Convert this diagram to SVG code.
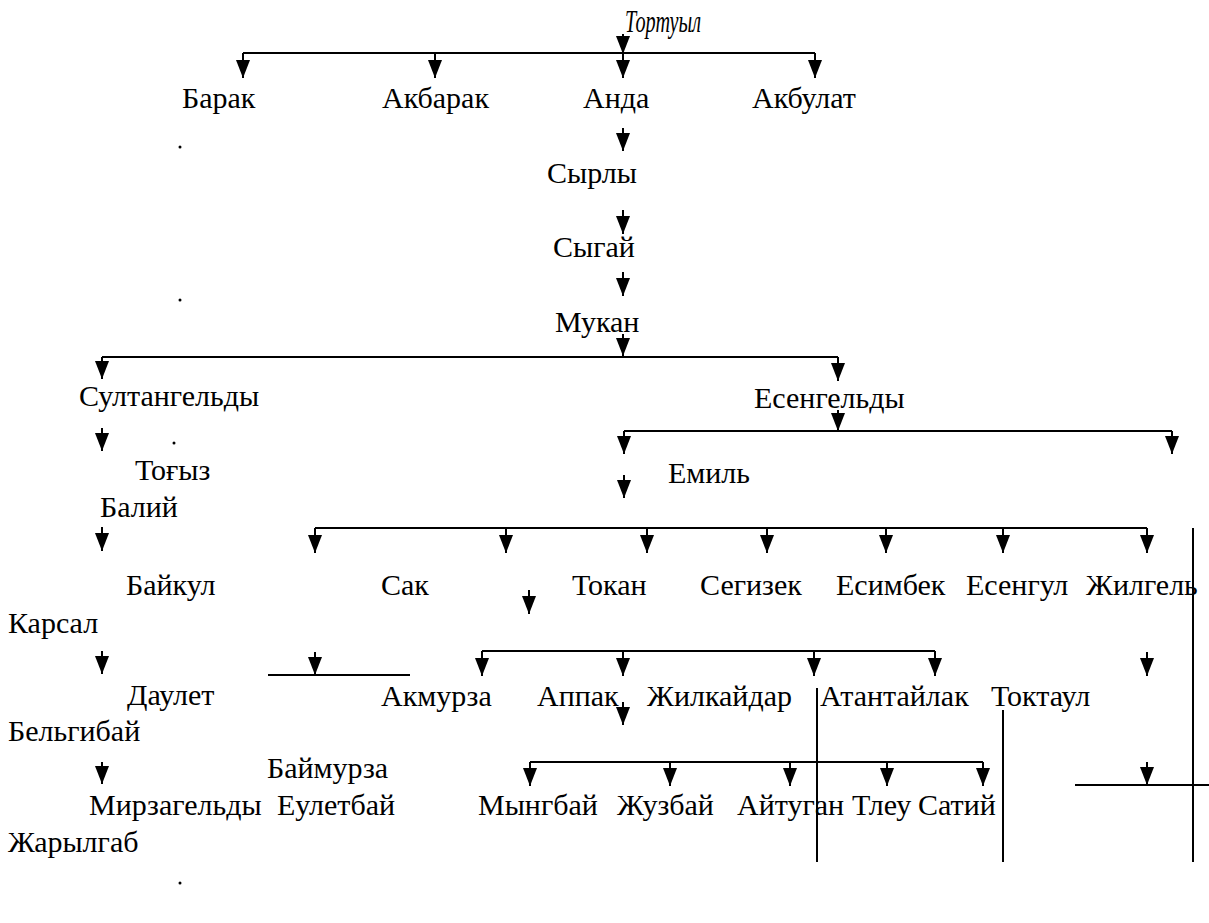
<svg xmlns="http://www.w3.org/2000/svg" width="1209" height="923" viewBox="0 0 1209 923">
<style>
text{font-family:"Liberation Serif","Times New Roman",serif;font-size:30px;fill:#000}
.it{font-style:italic;font-size:31px}
.c line{stroke:#000;stroke-width:2;fill:none}
.c line.a{marker-end:url(#ah)}
.dot{fill:#000}
</style>
<defs>
<marker id="ah" markerUnits="userSpaceOnUse" viewBox="0 -7 18 14" refX="18" refY="0" markerWidth="18" markerHeight="14" orient="auto">
<path d="M0,-7 L18,0 L0,7 Z" fill="#000"/>
</marker>
</defs>
<rect width="1209" height="923" fill="#fff"/>
<g class="c" id="connectors">
<line class="a" x1="623" y1="34" x2="623" y2="54"/>
<line x1="243" y1="53" x2="815" y2="53"/>
<line class="a" x1="243" y1="53" x2="243" y2="78"/>
<line class="a" x1="435" y1="53" x2="435" y2="78"/>
<line class="a" x1="623" y1="53" x2="623" y2="78"/>
<line class="a" x1="815" y1="53" x2="815" y2="78"/>
<line class="a" x1="623" y1="128" x2="623" y2="151"/>
<line class="a" x1="623" y1="210" x2="623" y2="234"/>
<line class="a" x1="623" y1="272" x2="623" y2="296"/>
<line class="a" x1="623" y1="334" x2="623" y2="356"/>
<line x1="102" y1="357" x2="838" y2="357"/>
<line class="a" x1="102" y1="357" x2="102" y2="379"/>
<line class="a" x1="838" y1="357" x2="838" y2="381"/>
<line class="a" x1="838" y1="410" x2="838" y2="431"/>
<line x1="624" y1="431" x2="1172" y2="431"/>
<line class="a" x1="624" y1="431" x2="624" y2="454"/>
<line class="a" x1="1172" y1="431" x2="1172" y2="454"/>
<line class="a" x1="102" y1="428" x2="102" y2="451"/>
<line class="a" x1="624" y1="475" x2="624" y2="498"/>
<line class="a" x1="102" y1="527" x2="102" y2="551"/>
<line x1="315" y1="528" x2="1147" y2="528"/>
<line class="a" x1="315" y1="528" x2="315" y2="553"/>
<line class="a" x1="506" y1="528" x2="506" y2="553"/>
<line class="a" x1="647" y1="528" x2="647" y2="553"/>
<line class="a" x1="767" y1="528" x2="767" y2="553"/>
<line class="a" x1="886" y1="528" x2="886" y2="553"/>
<line class="a" x1="1003" y1="528" x2="1003" y2="553"/>
<line class="a" x1="1147" y1="528" x2="1147" y2="553"/>
<line x1="1193" y1="528" x2="1193" y2="862"/>
<line class="a" x1="529" y1="590" x2="529" y2="614"/>
<line class="a" x1="102" y1="651" x2="102" y2="674"/>
<line x1="268" y1="675" x2="410" y2="675"/>
<line class="a" x1="315" y1="652" x2="315" y2="675"/>
<line x1="482" y1="651" x2="935" y2="651"/>
<line class="a" x1="482" y1="651" x2="482" y2="676"/>
<line class="a" x1="623" y1="651" x2="623" y2="676"/>
<line class="a" x1="814" y1="651" x2="814" y2="676"/>
<line class="a" x1="935" y1="651" x2="935" y2="676"/>
<line class="a" x1="1147" y1="652" x2="1147" y2="676"/>
<line class="a" x1="623" y1="702" x2="623" y2="725"/>
<line x1="817" y1="688" x2="817" y2="862"/>
<line x1="1003" y1="710" x2="1003" y2="862"/>
<line x1="530" y1="762" x2="983" y2="762"/>
<line class="a" x1="530" y1="762" x2="530" y2="786"/>
<line class="a" x1="670" y1="762" x2="670" y2="786"/>
<line class="a" x1="790" y1="762" x2="790" y2="786"/>
<line class="a" x1="887" y1="762" x2="887" y2="786"/>
<line class="a" x1="983" y1="762" x2="983" y2="786"/>
<line class="a" x1="102" y1="762" x2="102" y2="784"/>
<line class="a" x1="1147" y1="762" x2="1147" y2="785"/>
<line x1="1075" y1="785" x2="1209" y2="785"/>
</g>
<g id="dots">
<circle class="dot" cx="180" cy="147" r="1.5"/>
<circle class="dot" cx="180" cy="300" r="1.5"/>
<circle class="dot" cx="174" cy="443" r="1.5"/>
<circle class="dot" cx="180" cy="883" r="1.5"/>
</g>
<g id="n-tortuyl"><text class="it" x="625" y="32" textLength="76" lengthAdjust="spacingAndGlyphs">Тортуыл</text></g>
<g id="n-barak"><text x="182" y="108">Барак</text></g>
<g id="n-akbarak"><text x="382" y="108">Акбарак</text></g>
<g id="n-anda"><text x="583" y="108">Анда</text></g>
<g id="n-akbulat"><text x="752" y="108">Акбулат</text></g>
<g id="n-syrly"><text x="547" y="183">Сырлы</text></g>
<g id="n-sygai"><text x="553" y="257">Сыгай</text></g>
<g id="n-mukan"><text x="555" y="332">Мукан</text></g>
<g id="n-sultangeldy"><text x="79" y="406">Султангельды</text></g>
<g id="n-esengeldy"><text x="754" y="408">Есенгельды</text></g>
<g id="n-togyz"><text x="135" y="480">Тоғыз</text></g>
<g id="n-bali"><text x="100" y="517">Балий</text></g>
<g id="n-emil"><text x="668" y="483">Емиль</text></g>
<g id="n-baikul"><text x="126" y="595">Байкул</text></g>
<g id="n-sak"><text x="381" y="595">Сак</text></g>
<g id="n-tokan"><text x="572" y="595">Токан</text></g>
<g id="n-segizek"><text x="700" y="595">Сегизек</text></g>
<g id="n-esimbek"><text x="836" y="595">Есимбек</text></g>
<g id="n-esengul"><text x="966" y="595">Есенгул</text></g>
<g id="n-zhilgel"><text x="1086" y="595">Жилгель</text></g>
<g id="n-karsal"><text x="8" y="633">Карсал</text></g>
<g id="n-daulet"><text x="127" y="705">Даулет</text></g>
<g id="n-akmurza"><text x="381" y="706">Акмурза</text></g>
<g id="n-appak"><text x="537" y="706">Аппак</text></g>
<g id="n-zhilkaidar"><text x="647" y="706">Жилкайдар</text></g>
<g id="n-atantailak"><text x="820" y="706">Атантайлак</text></g>
<g id="n-toktaul"><text x="991" y="706">Токтаул</text></g>
<g id="n-belgibai"><text x="8" y="741">Бельгибай</text></g>
<g id="n-baimurza"><text x="267" y="778">Баймурза</text></g>
<g id="n-mirzageldy"><text x="89" y="815">Мирзагельды</text></g>
<g id="n-euletbai"><text x="277" y="815">Еулетбай</text></g>
<g id="n-myngbai"><text x="478" y="815">Мынгбай</text></g>
<g id="n-zhuzbai"><text x="617" y="815">Жузбай</text></g>
<g id="n-aitugan"><text x="737" y="815">Айтуган</text></g>
<g id="n-tleu"><text x="852" y="815">Тлеу</text></g>
<g id="n-sati"><text x="918" y="815">Сатий</text></g>
<g id="n-zharylgab"><text x="8" y="852">Жарылгаб</text></g>
</svg>
